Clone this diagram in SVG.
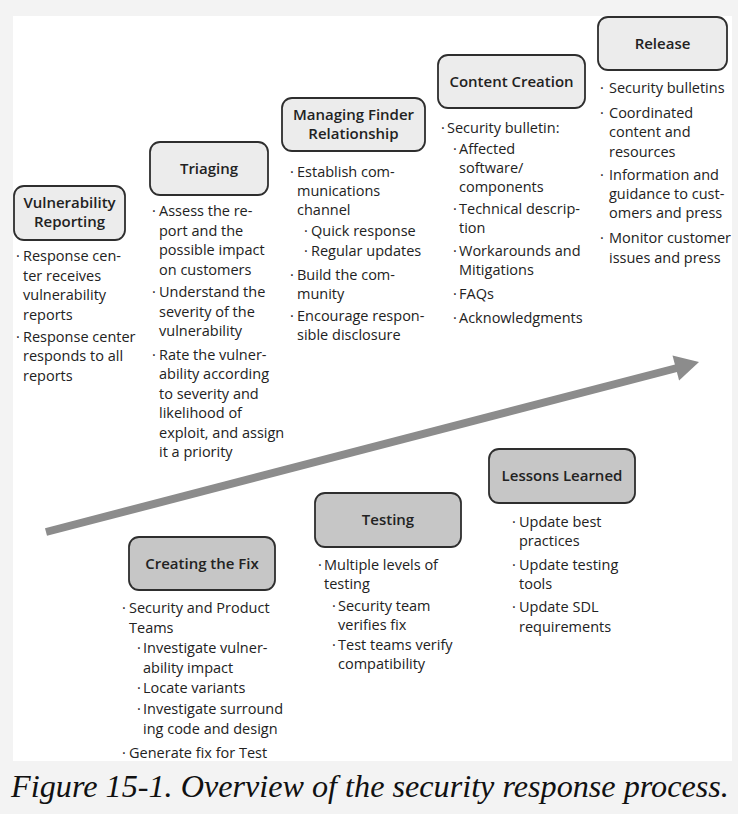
<svg xmlns="http://www.w3.org/2000/svg" width="738" height="814" viewBox="0 0 738 814">
<defs>
<style>
.bg{fill:#f3f3f3}
.panel{fill:#ffffff}
.box{stroke:#2e2e2e;stroke-width:1.8}
.up{fill:#ececec}
.lo{fill:#c6c6c6}
.hd{font-family:"Open Sans","Noto Sans",sans-serif;font-weight:600;font-size:15px;fill:#222;text-anchor:middle}
.tx{font-family:"Open Sans","Noto Sans",sans-serif;font-size:14.5px;fill:#222}
.cap{font-family:"Liberation Serif","Times New Roman",serif;font-style:italic;font-size:32.2px;fill:#111;text-anchor:middle}
.arr{stroke:#8c8c8c;stroke-width:8;fill:none}
.ah{fill:#8c8c8c}
</style>
</defs>
<rect class="bg" x="0" y="0" width="738" height="814"/>
<rect class="panel" x="13" y="16" width="719" height="745"/>

<g id="connectors">
<line class="arr" x1="46" y1="532" x2="677" y2="368"/>
<polygon class="ah" points="699,362 672.5,355.4 679.1,380.6"/>
</g>

<g id="vulnerability-reporting">
<rect class="box up" x="14" y="186" width="111" height="54" rx="10"/>
<text class="hd" x="69.5" y="208">Vulnerability</text>
<text class="hd" x="69.5" y="227">Reporting</text>
<text class="tx"><tspan x="16" y="261">·</tspan><tspan x="23" y="261">Response cen-</tspan><tspan x="23" y="280.5">ter receives</tspan><tspan x="23" y="300">vulnerability</tspan><tspan x="23" y="319.5">reports</tspan><tspan x="16" y="341.5">·</tspan><tspan x="23" y="341.5">Response center</tspan><tspan x="23" y="361">responds to all</tspan><tspan x="23" y="380.5">reports</tspan></text>
</g>

<g id="triaging">
<rect class="box up" x="150" y="142" width="118" height="53" rx="10"/>
<text class="hd" x="209" y="174">Triaging</text>
<text class="tx"><tspan x="152" y="216">·</tspan><tspan x="159" y="216">Assess the re-</tspan><tspan x="159" y="235.5">port and the</tspan><tspan x="159" y="255">possible impact</tspan><tspan x="159" y="274.5">on customers</tspan><tspan x="152" y="297">·</tspan><tspan x="159" y="297">Understand the</tspan><tspan x="159" y="316.5">severity of the</tspan><tspan x="159" y="336">vulnerability</tspan><tspan x="152" y="359.5">·</tspan><tspan x="159" y="359.5">Rate the vulner-</tspan><tspan x="159" y="379">ability according</tspan><tspan x="159" y="398.5">to severity and</tspan><tspan x="159" y="418">likelihood of</tspan><tspan x="159" y="437.5">exploit, and assign</tspan><tspan x="159" y="457">it a priority</tspan></text>
</g>

<g id="managing-finder-relationship">
<rect class="box up" x="282" y="98" width="143" height="53" rx="10"/>
<text class="hd" x="353.5" y="120">Managing Finder</text>
<text class="hd" x="353.5" y="139">Relationship</text>
<text class="tx"><tspan x="290" y="177">·</tspan><tspan x="297" y="177">Establish com-</tspan><tspan x="297" y="196">munications</tspan><tspan x="297" y="215">channel</tspan><tspan x="304" y="236">·</tspan><tspan x="311" y="236">Quick response</tspan><tspan x="304" y="256">·</tspan><tspan x="311" y="256">Regular updates</tspan><tspan x="290" y="280">·</tspan><tspan x="297" y="280">Build the com-</tspan><tspan x="297" y="299">munity</tspan><tspan x="290" y="321">·</tspan><tspan x="297" y="321">Encourage respon-</tspan><tspan x="297" y="340">sible disclosure</tspan></text>
</g>

<g id="content-creation">
<rect class="box up" x="438" y="55" width="147" height="53" rx="10"/>
<text class="hd" x="511.5" y="87">Content Creation</text>
<text class="tx"><tspan x="441" y="133">·</tspan><tspan x="447" y="133">Security bulletin:</tspan><tspan x="453" y="154">·</tspan><tspan x="459" y="154">Affected</tspan><tspan x="459" y="173">software/</tspan><tspan x="459" y="192">components</tspan><tspan x="453" y="214">·</tspan><tspan x="459" y="214">Technical descrip-</tspan><tspan x="459" y="233">tion</tspan><tspan x="453" y="256">·</tspan><tspan x="459" y="256">Workarounds and</tspan><tspan x="459" y="275">Mitigations</tspan><tspan x="453" y="299">·</tspan><tspan x="459" y="299">FAQs</tspan><tspan x="453" y="323">·</tspan><tspan x="459" y="323">Acknowledgments</tspan></text>
</g>

<g id="release">
<rect class="box up" x="598" y="17" width="129" height="53" rx="10"/>
<text class="hd" x="662.5" y="49">Release</text>
<text class="tx"><tspan x="600" y="93">·</tspan><tspan x="609" y="93">Security bulletins</tspan><tspan x="600" y="118">·</tspan><tspan x="609" y="118">Coordinated</tspan><tspan x="609" y="137">content and</tspan><tspan x="609" y="157">resources</tspan><tspan x="600" y="180">·</tspan><tspan x="609" y="180">Information and</tspan><tspan x="609" y="199">guidance to cust-</tspan><tspan x="609" y="218">omers and press</tspan><tspan x="600" y="243">·</tspan><tspan x="609" y="243">Monitor customer</tspan><tspan x="609" y="263">issues and press</tspan></text>
</g>

<g id="creating-the-fix">
<rect class="box lo" x="129" y="537" width="146" height="53" rx="10"/>
<text class="hd" x="202" y="569">Creating the Fix</text>
<text class="tx"><tspan x="122" y="613">·</tspan><tspan x="129" y="613">Security and Product</tspan><tspan x="129" y="633">Teams</tspan><tspan x="137" y="653">·</tspan><tspan x="143" y="653">Investigate vulner-</tspan><tspan x="143" y="673">ability impact</tspan><tspan x="137" y="693">·</tspan><tspan x="143" y="693">Locate variants</tspan><tspan x="137" y="714">·</tspan><tspan x="143" y="714">Investigate surround</tspan><tspan x="143" y="734">ing code and design</tspan><tspan x="122" y="758">·</tspan><tspan x="129" y="758">Generate fix for Test</tspan></text>
</g>

<g id="testing">
<rect class="box lo" x="315" y="493" width="146" height="54" rx="10"/>
<text class="hd" x="388" y="525">Testing</text>
<text class="tx"><tspan x="318" y="570">·</tspan><tspan x="324" y="570">Multiple levels of</tspan><tspan x="324" y="589">testing</tspan><tspan x="332" y="611">·</tspan><tspan x="338" y="611">Security team</tspan><tspan x="338" y="630">verifies fix</tspan><tspan x="332" y="650">·</tspan><tspan x="338" y="650">Test teams verify</tspan><tspan x="338" y="669">compatibility</tspan></text>
</g>

<g id="lessons-learned">
<rect class="box lo" x="489" y="449" width="146" height="54" rx="10"/>
<text class="hd" x="562" y="481">Lessons Learned</text>
<text class="tx"><tspan x="512" y="527">·</tspan><tspan x="519" y="527">Update best</tspan><tspan x="519" y="546">practices</tspan><tspan x="512" y="570">·</tspan><tspan x="519" y="570">Update testing</tspan><tspan x="519" y="589">tools</tspan><tspan x="512" y="612">·</tspan><tspan x="519" y="612">Update SDL</tspan><tspan x="519" y="632">requirements</tspan></text>
</g>

<text class="cap" x="370" y="797">Figure 15-1. Overview of the security response process.</text>
</svg>
